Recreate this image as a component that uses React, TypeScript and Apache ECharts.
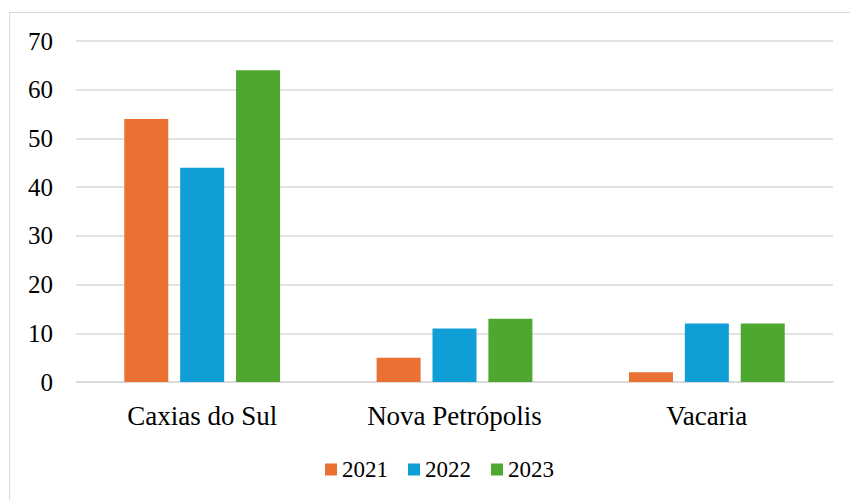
import React, { useEffect, useRef } from "react";
import * as echarts from "echarts";

const categories = ["Caxias do Sul", "Nova Petrópolis", "Vacaria"];
const seriesNames = ["2021", "2022", "2023"];
const values2021 = [54, 5, 2];
const values2022 = [44, 11, 12];
const values2023 = [64, 13, 12];
const colors = ["#E97132", "#0F9ED5", "#4EA72E"];

export default function App() {
  const ref = useRef<HTMLDivElement>(null);
  useEffect(() => {
    if (!ref.current) return;
    const chart = echarts.init(ref.current, undefined, { renderer: "svg" });
    const font = "Liberation Serif";
    const data = [values2021, values2022, values2023];
    chart.setOption({
      animation: false,
      textStyle: { fontFamily: font },
      graphic: [
        { type: "line", shape: { x1: 9.5, y1: 12.5, x2: 850, y2: 12.5 }, style: { stroke: "#d9d9d9", lineWidth: 1 } },
        { type: "line", shape: { x1: 9.5, y1: 12.5, x2: 9.5, y2: 500 }, style: { stroke: "#d9d9d9", lineWidth: 1 } },
      ],
      grid: { left: 76, right: 17, top: 41, bottom: 118, containLabel: false },
      legend: {
        bottom: 14,
        left: 320,
        itemWidth: 12,
        itemHeight: 12,
        itemGap: 20,
        icon: "rect",
        textStyle: { fontFamily: font, fontSize: 23, color: "#000" },
        data: seriesNames,
      },
      xAxis: {
        type: "category",
        data: categories,
        axisLine: { lineStyle: { color: "#d9d9d9", width: 1.5 } },
        axisTick: { show: false },
        axisLabel: { fontFamily: font, fontSize: 27, color: "#000", margin: 20 },
      },
      yAxis: {
        type: "value",
        min: 0,
        max: 70,
        interval: 10,
        axisLine: { show: false },
        axisTick: { show: false },
        splitLine: { lineStyle: { color: "#d9d9d9", width: 1.5 } },
        axisLabel: { fontFamily: font, fontSize: 25, color: "#000", margin: 23 },
      },
      series: seriesNames.map((name, i) => ({
        name,
        type: "bar",
        data: data[i],
        barWidth: 44,
        barGap: "27%",
        itemStyle: { color: colors[i] },
      })),
    });
    return () => chart.dispose();
  }, []);
  return <div ref={ref} style={{ position: "absolute", left: 0, top: 0, width: 850, height: 500, fontFamily: "Liberation Serif" }} />;
}
